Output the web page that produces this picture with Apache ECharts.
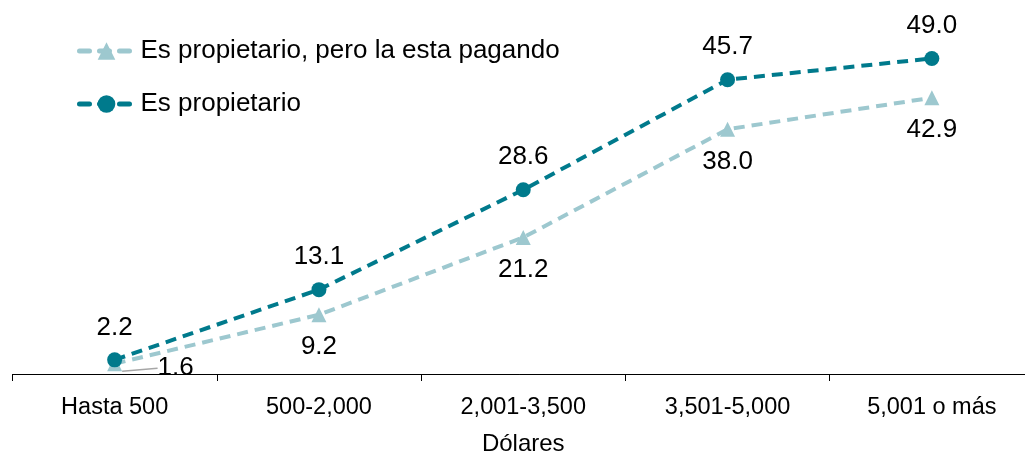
<!DOCTYPE html>
<html>
<head>
<meta charset="utf-8">
<script src="https://cdn.jsdelivr.net/npm/echarts@6/dist/echarts.min.js"></script>
<style>
  html, body { margin: 0; padding: 0; background: #fff; }
  #chart { width: 1025px; height: 451px; }
</style>
</head>
<body>
<div id="chart"></div>
<script>
// Income brackets (in dollars) and share of households per ownership status
const categories = ['Hasta 500', '500-2,000', '2,001-3,500', '3,501-5,000', '5,001 o más'];
const pagandoValues = [1.6, 9.2, 21.2, 38.0, 42.9];
const propietarioValues = [2.2, 13.1, 28.6, 45.7, 49.0];
const seriesNames = ['Es propietario, pero la esta pagando', 'Es propietario'];

const FONT = 'Liberation Sans, Arial, sans-serif';
const DARK = '#007a8c';
const LIGHT = '#9dc8cf';

const fmt = p => p.value.toFixed(1);

const chart = echarts.init(document.getElementById('chart'));
chart.setOption({
  animation: false,
  textStyle: { fontFamily: FONT },
  grid: { left: 12.5, width: 1021.5, top: 52, bottom: 77, outerBoundsMode: 'none', containLabel: false },
  legend: {
    orient: 'vertical',
    left: 77,
    top: 38,
    padding: 0,
    itemWidth: 54,
    itemHeight: 22,
    itemGap: 27,
    lineStyle: { width: 5, type: [10, 10], cap: 'round' },
    textStyle: {
      fontFamily: FONT, fontSize: 26, color: '#000',
      lineHeight: 26, padding: [0, 0, 0, 2]
    },
    data: seriesNames
  },
  xAxis: {
    type: 'category',
    data: categories,
    boundaryGap: true,
    name: 'Dólares',
    nameLocation: 'middle',
    nameGap: 58,
    nameTextStyle: { fontFamily: FONT, fontSize: 24, color: '#000' },
    axisLine: { lineStyle: { color: '#000', width: 1 } },
    axisTick: { show: true, length: 7, lineStyle: { color: '#000' } },
    axisLabel: { fontFamily: FONT, fontSize: 23.5, color: '#000', margin: 22 }
  },
  yAxis: {
    type: 'value',
    min: 0,
    max: 50,
    show: false,
    splitLine: { show: false }
  },
  series: [
    {
      name: seriesNames[0],
      type: 'line',
      data: pagandoValues.map((v, i) => i === 0
        ? { value: v, labelLine: { show: true } }
        : v),
      symbol: 'triangle',
      symbolSize: 15,
      itemStyle: { color: LIGHT },
      lineStyle: { color: LIGHT, width: 4, type: [11, 7] },
      label: {
        show: true,
        position: 'bottom',
        distance: 12,
        fontSize: 26,
        color: '#000',
        formatter: fmt
      },
      labelLine: { show: false, lineStyle: { color: '#a6a6a6', width: 1.5 } },
      labelLayout: function (params) {
        // first point's label sits beside its marker, tied back by a leader line
        if (params.dataIndex === 0) {
          return { dx: 61, dy: -28 };
        }
        return {};
      },
      z: 2
    },
    {
      name: seriesNames[1],
      type: 'line',
      data: propietarioValues,
      symbol: 'circle',
      symbolSize: 15,
      itemStyle: { color: DARK },
      lineStyle: { color: DARK, width: 4, type: [11, 7] },
      label: {
        show: true,
        position: 'top',
        distance: 12,
        fontSize: 26,
        color: '#000',
        formatter: fmt
      },
      z: 3
    }
  ]
});
</script>
</body>
</html>
